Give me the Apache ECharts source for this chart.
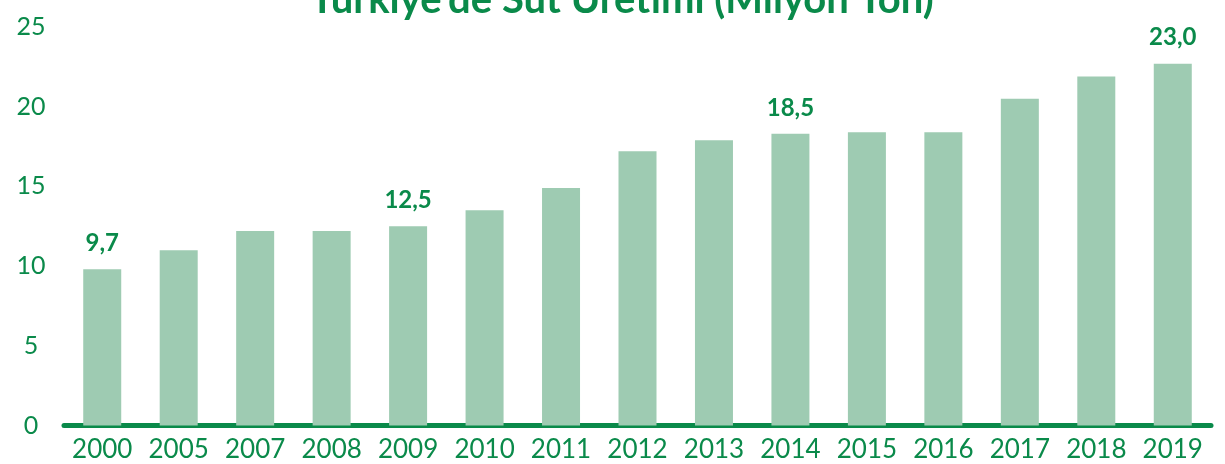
<!DOCTYPE html>
<html>
<head>
<meta charset="utf-8">
<script src="https://cdn.jsdelivr.net/npm/echarts@6/dist/echarts.min.js"></script>
<style>
html,body{margin:0;padding:0;background:#fff;}
#c{width:1225px;height:464px;}
</style>
</head>
<body>
<div id="c"></div>
<script>
const titleText = "Türkiye'de Süt Üretimi (Milyon Ton)";
const years = ["2000","2005","2007","2008","2009","2010","2011","2012","2013","2014","2015","2016","2017","2018","2019"];
const production = [9.8, 11.0, 12.2, 12.2, 12.5, 13.5, 14.9, 17.2, 17.9, 18.3, 18.4, 18.4, 20.5, 21.9, 22.7];
const valueLabels = ["9,7","","","","12,5","","","","","18,5","","","","","23,0"];
const yTicks = [0, 5, 10, 15, 20, 25];

const GREEN = '#0a8a4a';
const chart = echarts.init(document.getElementById('c'));
chart.setOption({
  animation: false,
  backgroundColor: '#fff',
  graphic: [{
    type: 'text',
    x: 622,
    y: 20,
    style: {
      text: titleText,
      fill: GREEN,
      font: 'bold 40px Lato',
      textAlign: 'center',
      textVerticalAlign: 'bottom'
    }
  }],
  grid: { left: 64, right: 14, top: 27, bottom: 38.5, containLabel: false },
  xAxis: {
    type: 'category',
    data: years,
    axisLine: { show: true, lineStyle: { color: GREEN, width: 5, cap: 'round' } },
    axisTick: { show: false },
    axisLabel: { color: GREEN, fontFamily: 'Lato', fontSize: 26, margin: 11, interval: 0 }
  },
  yAxis: {
    type: 'value',
    min: yTicks[0],
    max: yTicks[yTicks.length - 1],
    interval: 5,
    axisLine: { show: false },
    axisTick: { show: false },
    splitLine: { show: false },
    axisLabel: { color: GREEN, fontFamily: 'Lato', fontSize: 25, align: 'center', margin: 33 }
  },
  series: [{
    type: 'bar',
    data: production,
    barWidth: 38,
    itemStyle: { color: '#9ecbb2' },
    label: {
      show: true,
      position: 'top',
      distance: 14,
      color: GREEN,
      fontFamily: 'Lato',
      fontWeight: 'bold',
      fontSize: 24,
      formatter: p => valueLabels[p.dataIndex]
    }
  }]
});
</script>
</body>
</html>
